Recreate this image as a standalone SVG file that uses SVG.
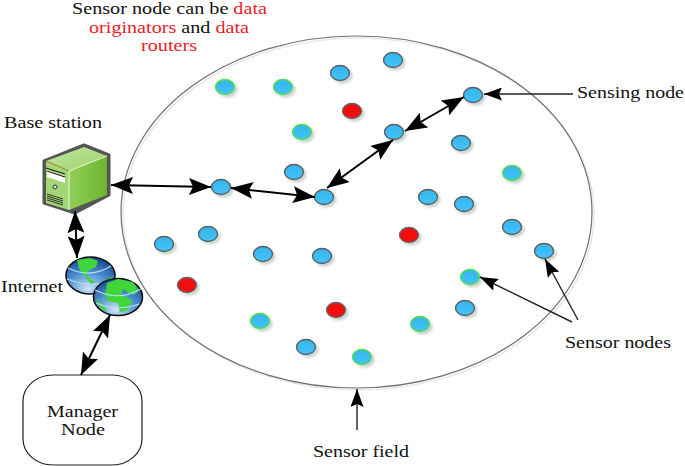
<svg xmlns="http://www.w3.org/2000/svg" width="685" height="466" viewBox="0 0 685 466">
<style>
text{font-family:"Liberation Serif","Times New Roman",serif;font-size:16.5px;fill:#111}
.r{fill:#ee1c25}
.n{stroke-width:1.4}
.b{fill:url(#bl);stroke:#5a5f66}
.g{fill:url(#bl);stroke:#4fe04a}
.rd{fill:#f40a0a;stroke:#666}
.c line{stroke:#000;stroke-width:2;fill:none;marker-start:url(#a);marker-end:url(#a)}
.o line{stroke:#222;stroke-width:1.4;fill:none;marker-end:url(#a2)}
.gr{fill:#3fd63a}
.lat{stroke:#b8def5;stroke-width:1.2;fill:none}
</style>
<defs>
<linearGradient id="bl" x1="0" y1="0" x2="0" y2="1"><stop offset="0" stop-color="#35b4ec"/><stop offset="1" stop-color="#42c4fb"/></linearGradient>
<radialGradient id="sea" cx=".45" cy=".85" r=".8"><stop offset="0" stop-color="#cfe4f6"/><stop offset=".55" stop-color="#4a8fd0"/><stop offset="1" stop-color="#1c4c96"/></radialGradient>
<linearGradient id="fr" x1="0" y1="0" x2="1" y2="1"><stop offset="0" stop-color="#bfe3a0"/><stop offset="1" stop-color="#9ad56a"/></linearGradient>
<linearGradient id="sd" x1="0" y1="0" x2="1" y2="0"><stop offset="0" stop-color="#93cf5c"/><stop offset="1" stop-color="#6cb52c"/></linearGradient>
<marker id="a" viewBox="0 0 22 17" refX="22" refY="8.500" markerWidth="22" markerHeight="17" markerUnits="userSpaceOnUse" orient="auto-start-reverse"><path d="M0 0L22 8.500L0 17L4 8.500Z" fill="#000"/></marker>
<marker id="a2" viewBox="0 0 18 13" refX="18" refY="6.500" markerWidth="18" markerHeight="13" markerUnits="userSpaceOnUse" orient="auto"><path d="M0 0L18 6.500L0 13L3 6.500Z" fill="#000"/></marker>
<filter id="sh" x="-5%" y="-5%" width="110%" height="110%"><feDropShadow dx="2.500" dy="2.500" stdDeviation="0.800" flood-color="#c6d0cc" flood-opacity="0.9"/></filter>
</defs>
<rect width="685" height="466" fill="#fff"/>
<g id="field">
<ellipse cx="358.500" cy="214" rx="235.500" ry="176" fill="none" stroke="#e3eae6" stroke-width="1.500"/>
<ellipse cx="356.500" cy="212" rx="235.500" ry="176" fill="none" stroke="#707070" stroke-width="1.200"/>
</g>
<g id="caption">
<text x="72" y="14" textLength="195" lengthAdjust="spacingAndGlyphs">Sensor node can be <tspan class="r">data</tspan></text>
<text x="89" y="33" textLength="160" lengthAdjust="spacingAndGlyphs"><tspan class="r">originators</tspan> and <tspan class="r">data</tspan></text>
<text x="141" y="51" textLength="56" lengthAdjust="spacingAndGlyphs" class="r">routers</text>
</g>
<g id="labels">
<text x="4" y="128" textLength="98" lengthAdjust="spacingAndGlyphs">Base station</text>
<text x="1" y="292" textLength="62" lengthAdjust="spacingAndGlyphs">Internet</text>
<text x="577" y="98" textLength="107" lengthAdjust="spacingAndGlyphs">Sensing node</text>
<text x="565" y="348" textLength="106" lengthAdjust="spacingAndGlyphs">Sensor nodes</text>
<text x="313" y="457" textLength="96" lengthAdjust="spacingAndGlyphs">Sensor field</text>
</g>
<g id="base-station">
<path d="M44 161L84 145L109 155V195L75 213L44 203Z" fill="#555" stroke="#555" stroke-width="3" stroke-linejoin="round"/>
<path d="M46 161L84 147L107 156L69 171Z" fill="url(#fr)"/>
<path d="M69 171L107 156V195L69 210Z" fill="url(#sd)"/>
<path d="M46 161L69 171V210L46 203Z" fill="#a2d774"/>
<path d="M46 161L69 171" stroke="#b07a50" stroke-width="1" fill="none"/>
<path d="M69 171L107 156M69 171V210" stroke="#eef7e4" stroke-width="1" fill="none"/>
<path d="M47 170L65 176V183L47 177Z" fill="#fff"/>
<path d="M46 168L65 174M47 171L65 177" stroke="#222" stroke-width="1.300"/>
<circle cx="55" cy="187" r="2" fill="#ddd" stroke="#333"/>
<path d="M47 194L63 199M47 196L63 201M47 198L63 203M47 200L63 205" stroke="#333" stroke-width="1"/>
</g>
<g id="internet">
<ellipse cx="90.500" cy="275.500" rx="24.500" ry="18.500" fill="url(#sea)" stroke="#111" stroke-width="1.600"/>
<path class="gr" d="M77 260L90 258L98 261L96 267L89 270L86 275L90 279L96 282L91 284L84 276L79 268Z"/>
<path class="gr" d="M106 280L113 276L111 284L104 288Z"/>
<path class="lat" d="M68 268Q90 279 111 266M67 279Q90 288 112 282"/>
<ellipse cx="118" cy="297" rx="24.500" ry="18.500" fill="url(#sea)" stroke="#111" stroke-width="1.600"/>
<path class="gr" d="M107 283L118 279L133 282L139 290L134 295L128 293L124 289L121 294L128 298L132 302L126 311L120 312L118 303L108 301L105 295Z"/>
<path class="gr" d="M96 298L102 304L108 312L100 308Z"/>
<path class="lat" d="M95 290Q118 302 141 289M96 303Q118 312 139 304"/>
</g>
<g id="manager-node">
<rect x="23" y="375" width="119" height="90" rx="30" ry="26" fill="#fff" stroke="#222" stroke-width="1.200"/>
<text x="47" y="417" textLength="71" lengthAdjust="spacingAndGlyphs">Manager</text>
<text x="61" y="435" textLength="44" lengthAdjust="spacingAndGlyphs">Node</text>
</g>
<g id="sensor-nodes" filter="url(#sh)">
<g class="n b"><ellipse cx="340" cy="73" rx="9.500" ry="7.500"/><ellipse cx="393" cy="60" rx="9.500" ry="7.500"/><ellipse cx="473" cy="95" rx="9.500" ry="7.500"/><ellipse cx="394" cy="132" rx="9.500" ry="7.500"/><ellipse cx="461" cy="143" rx="9.500" ry="7.500"/><ellipse cx="294" cy="172" rx="9.500" ry="7.500"/><ellipse cx="221" cy="187" rx="9.500" ry="7.500"/><ellipse cx="324" cy="197" rx="9.500" ry="7.500"/><ellipse cx="428" cy="197" rx="9.500" ry="7.500"/><ellipse cx="464" cy="204" rx="9.500" ry="7.500"/><ellipse cx="512" cy="227" rx="9.500" ry="7.500"/><ellipse cx="544" cy="251" rx="9.500" ry="7.500"/><ellipse cx="208" cy="234" rx="9.500" ry="7.500"/><ellipse cx="164" cy="244" rx="9.500" ry="7.500"/><ellipse cx="263" cy="254" rx="9.500" ry="7.500"/><ellipse cx="322" cy="256" rx="9.500" ry="7.500"/><ellipse cx="465" cy="308" rx="9.500" ry="7.500"/><ellipse cx="306" cy="347" rx="9.500" ry="7.500"/></g>
<g class="n g"><ellipse cx="225" cy="87" rx="9.500" ry="7.500"/><ellipse cx="283" cy="87" rx="9.500" ry="7.500"/><ellipse cx="302" cy="132" rx="9.500" ry="7.500"/><ellipse cx="512" cy="173" rx="9.500" ry="7.500"/><ellipse cx="470" cy="277" rx="9.500" ry="7.500"/><ellipse cx="260" cy="321" rx="9.500" ry="7.500"/><ellipse cx="420" cy="324" rx="9.500" ry="7.500"/><ellipse cx="362" cy="357" rx="9.500" ry="7.500"/></g>
<g class="n rd"><ellipse cx="352" cy="111" rx="9.500" ry="7.500"/><ellipse cx="409" cy="235" rx="9.500" ry="7.500"/><ellipse cx="187" cy="285" rx="9.500" ry="7.500"/><ellipse cx="336" cy="310" rx="9.500" ry="7.500"/></g>
</g>
<g id="connectors">
<g class="c">
<line x1="111" y1="185" x2="211" y2="187"/>
<line x1="231" y1="188" x2="315" y2="197"/>
<line x1="327" y1="188" x2="393" y2="140"/>
<line x1="405" y1="131" x2="464" y2="97"/>
<line x1="75" y1="211" x2="77" y2="258"/>
<line x1="110" y1="315" x2="81" y2="375"/>
</g>
<g class="o">
<line x1="573" y1="94" x2="484" y2="94"/>
<line x1="572" y1="322" x2="480" y2="277"/>
<line x1="578" y1="320" x2="545" y2="259"/>
<line x1="357" y1="430" x2="357" y2="389"/>
</g>
</g>
</svg>
